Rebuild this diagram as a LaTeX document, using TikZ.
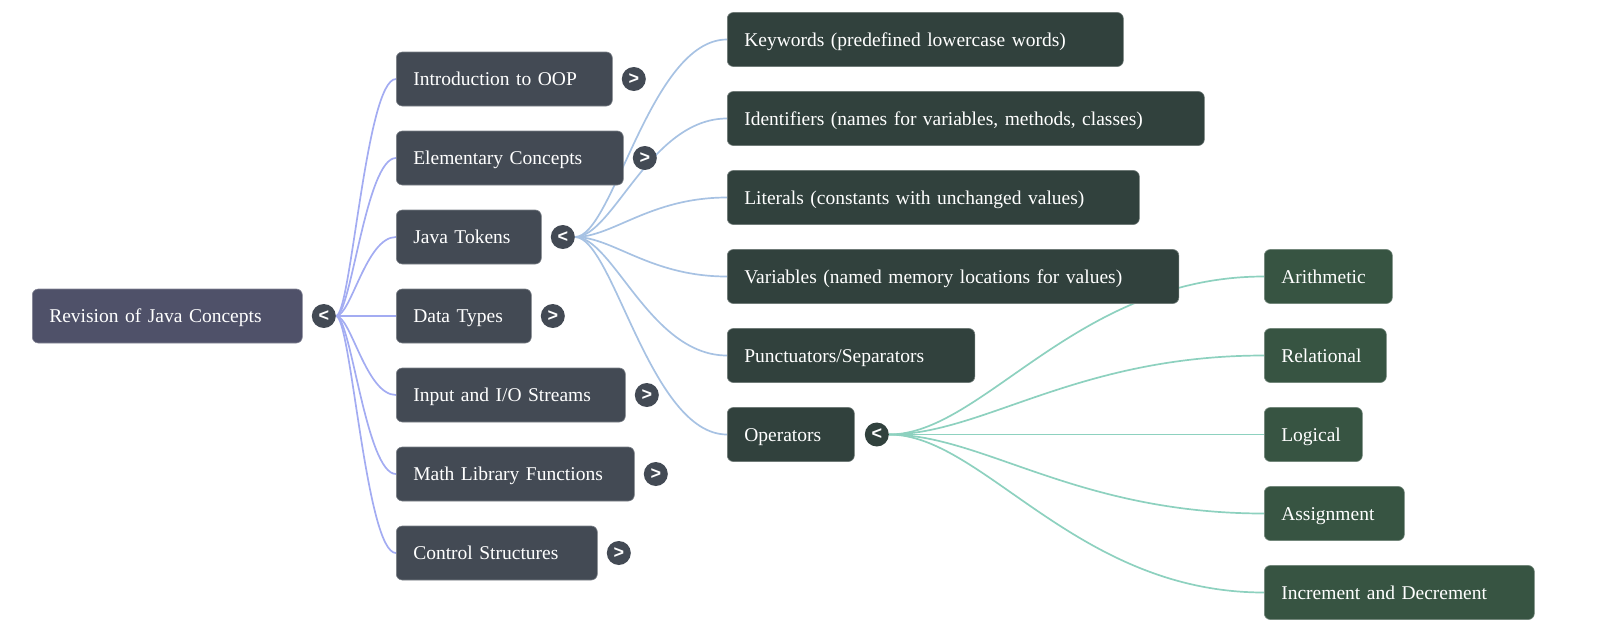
\documentclass[tikz,border=0pt]{standalone}
\usepackage{fontspec}
\setmainfont{Liberation Serif}
\newfontfamily\chevfont{Liberation Sans}
\usetikzlibrary{positioning,backgrounds}
\definecolor{rootfill}{HTML}{4F5169}
\definecolor{lvonefill}{HTML}{434A54}
\definecolor{lvtwofill}{HTML}{31413D}
\definecolor{lvthreefill}{HTML}{375442}
\definecolor{rootline}{HTML}{A3ACF2}
\definecolor{tokline}{HTML}{A7C2E3}
\definecolor{opline}{HTML}{8DD1BF}

\begin{document}
\begin{tikzpicture}[x=1pt, y=-1pt,
    box/.style={rectangle, rounded corners=6pt, anchor=west, minimum height=54pt,
                inner xsep=17pt, text height=17pt, text depth=4pt, align=left,
                text=white, font=\fontsize{19.5}{23}\selectfont,
                fill=#1, draw=#1!70!white, line width=0.6pt},
    toggle/.style={circle, fill=#1, minimum size=24pt, inner sep=0pt,
                   text=white, font=\chevfont\bfseries\fontsize{18}{18}\selectfont},
    rootedge/.style={draw=rootline, line width=1.7pt,
        to path={(\tikztostart) .. controls +(15,0) and +(-30,0) .. (\tikztotarget)}},
    tokedge/.style={draw=tokline, line width=1.7pt,
        to path={(\tikztostart) .. controls +(38,0) and +(-77,0) .. (\tikztotarget)}},
    opedge/.style={draw=opline, line width=1.7pt,
        to path={(\tikztostart) .. controls +(94,0) and +(-188,0) .. (\tikztotarget)}}]

\useasboundingbox (0,0) rectangle (1600,633);

\node[box=rootfill, text width=236pt] (rev) at (32,316) {Revision of Java Concepts};
\node[toggle=lvonefill, right=9pt of rev] (revt) {<};

\node[box=lvonefill, text width=182pt] (oop)  at (396,79)  {Introduction to OOP};
\node[box=lvonefill, text width=193pt] (elem) at (396,158) {Elementary Concepts};
\node[box=lvonefill, text width=111pt] (tok)  at (396,237) {Java Tokens};
\node[box=lvonefill, text width=101pt] (dtyp) at (396,316) {Data Types};
\node[box=lvonefill, text width=195pt] (inio) at (396,395) {Input and I/O Streams};
\node[box=lvonefill, text width=204pt] (math) at (396,474) {Math Library Functions};
\node[box=lvonefill, text width=167pt] (ctrl) at (396,553) {Control Structures};
\node[toggle=lvonefill, right=9pt of oop]  (oopt)  {>};
\node[toggle=lvonefill, right=9pt of elem] (elemt) {>};
\node[toggle=lvonefill, right=9pt of tok]  (tokt)  {<};
\node[toggle=lvonefill, right=9pt of dtyp] (dtypt) {>};
\node[toggle=lvonefill, right=9pt of inio] (iniot) {>};
\node[toggle=lvonefill, right=9pt of math] (matht) {>};
\node[toggle=lvonefill, right=9pt of ctrl] (ctrlt) {>};

\node[box=lvtwofill, text width=362pt]   (kw)  at (727,39.5)  {Keywords (predefined lowercase words)};
\node[box=lvtwofill, text width=443pt]   (ids) at (727,118.5) {Identifiers (names for variables, methods, classes)};
\node[box=lvtwofill, text width=378pt]   (lit) at (727,197.5) {Literals (constants with unchanged values)};
\node[box=lvtwofill, text width=417.5pt] (var) at (727,276.5) {Variables (named memory locations for values)};
\node[box=lvtwofill, text width=213.5pt] (pun) at (727,355.5) {Punctuators/Separators};
\node[box=lvtwofill, text width=93pt]    (ops) at (727,434.5) {Operators};
\node[toggle=lvtwofill, right=10pt of ops] (opst) {<};

\node[box=lvthreefill, text width=94pt]  (ari) at (1264,276.5) {Arithmetic};
\node[box=lvthreefill, text width=88pt]  (rel) at (1264,355.5) {Relational};
\node[box=lvthreefill, text width=64pt]  (log) at (1264,434.5) {Logical};
\node[box=lvthreefill, text width=106pt] (asg) at (1264,513.5) {Assignment};
\node[box=lvthreefill, text width=236pt] (inc) at (1264,592.5) {Increment and Decrement};

\begin{scope}[on background layer]
\draw[rootedge] (revt.east) edge (oop.west) edge (elem.west) edge (tok.west)
    edge (dtyp.west) edge (inio.west) edge (math.west) edge (ctrl.west);
\draw[tokedge] (tokt.east) edge (kw.west) edge (ids.west) edge (lit.west)
    edge (var.west) edge (pun.west) edge (ops.west);
\draw[opedge] (opst.east) edge (ari.west) edge (rel.west) edge (log.west)
    edge (asg.west) edge (inc.west);
\end{scope}

\end{tikzpicture}
\end{document}
